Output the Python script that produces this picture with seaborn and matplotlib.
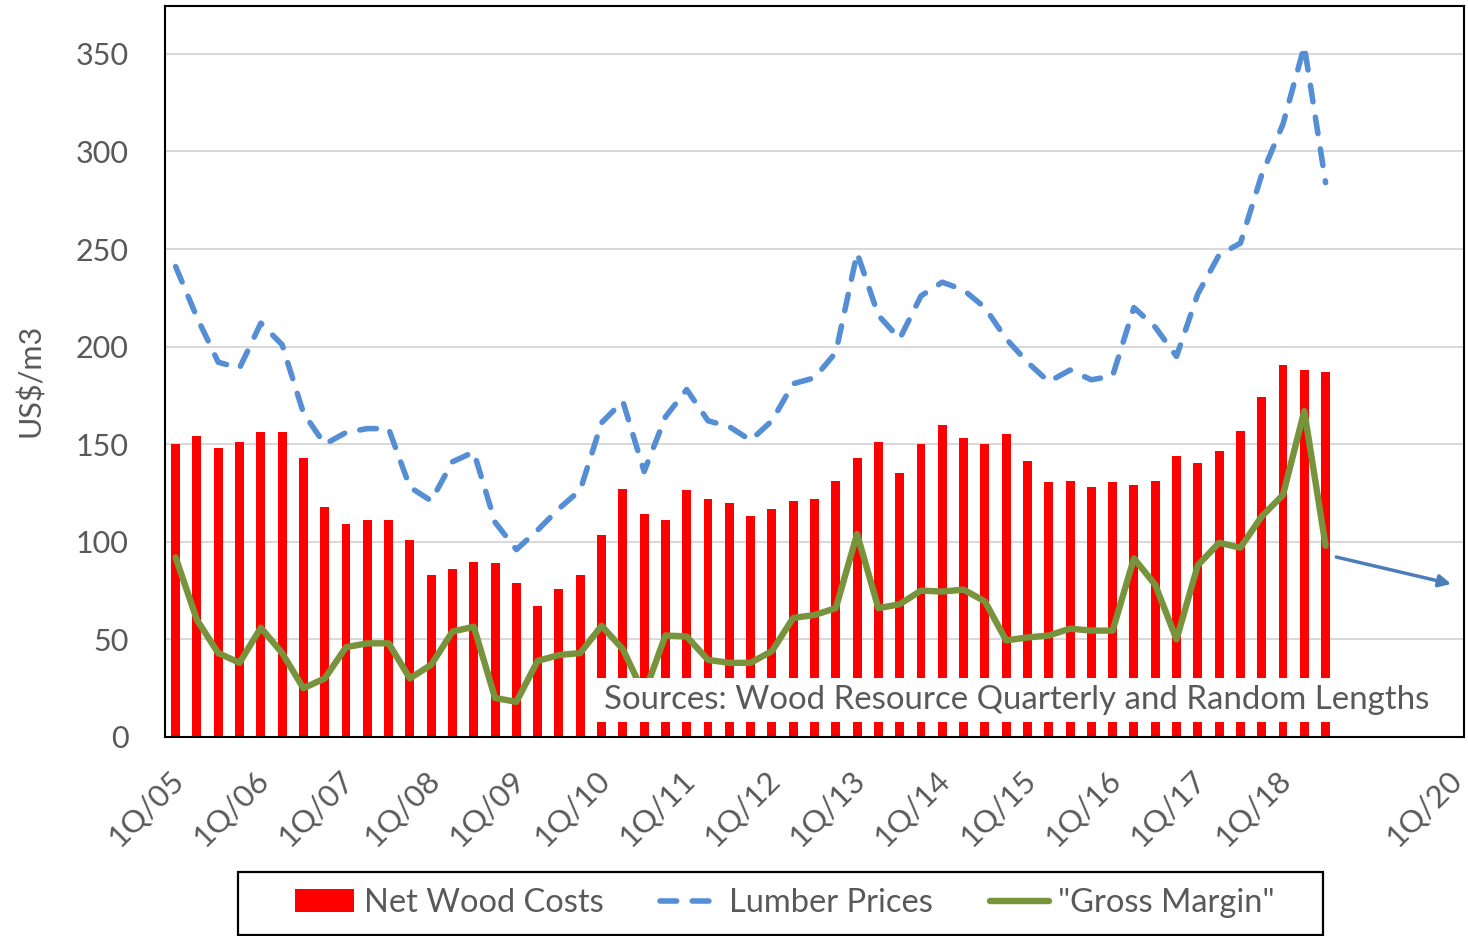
import numpy as np
import matplotlib
matplotlib.use("Agg")
import matplotlib.pyplot as plt
import matplotlib.transforms as mtransforms
from matplotlib.patches import Patch, Rectangle
from matplotlib.lines import Line2D
import seaborn as sns

# quarterly series, 1Q/05 .. 3Q/18 (US$/m3)
net_wood_costs = [150, 154, 148, 151, 156, 156, 143, 118, 109, 111,
                  111, 101, 83, 86, 89.5, 89, 79, 67, 76, 83,
                  103.5, 127, 114, 111, 126.5, 122, 120, 113, 117, 121,
                  122, 131, 143, 151, 135.5, 150, 160, 153, 150, 155,
                  141.5, 130.5, 131, 128, 130.5, 129, 131, 144, 140.5, 146.5,
                  157, 174, 190.5, 188, 187]
lumber_prices = [241, 215, 192, 189, 212, 201, 166, 150, 156, 158,
                 158, 128, 121, 141, 146, 110, 96, 106, 117, 126.5,
                 161, 172, 136, 164, 178, 162, 159, 152, 162, 181,
                 184, 197, 248, 216, 204, 226, 233, 229, 220, 204,
                 192, 182, 188, 183, 185, 220, 210, 195, 227, 247,
                 253, 288, 314, 354, 284]
gross_margin = [92, 60, 43, 38, 56, 43, 25, 30, 46, 48,
                48, 30, 37, 54, 56.5, 20, 18, 39, 42, 43,
                57, 45, 22, 52, 51.5, 39.5, 38, 38, 44, 61,
                62.5, 66, 104, 66, 68, 75, 74.5, 75.5, 69.5, 49.5,
                51, 52, 55.5, 54.5, 54.5, 91.5, 78, 50, 88, 99.5,
                97, 113, 124, 167, 98]
quarter_idx = np.arange(len(net_wood_costs))

tick_labels = ["1Q/05", "1Q/06", "1Q/07", "1Q/08", "1Q/09", "1Q/10", "1Q/11",
               "1Q/12", "1Q/13", "1Q/14", "1Q/15", "1Q/16", "1Q/17", "1Q/18",
               "", "1Q/20"]
y_ticks = [0, 50, 100, 150, 200, 250, 300, 350]

red = "#ff0000"
blue = "#558ed5"
green = "#77933c"
grey_txt = "#595959"
dash = (3.0, 2.8)

sns.set_theme(style="white")
plt.rcParams["font.family"] = ["Lato", "DejaVu Sans"]

fig = plt.figure(figsize=(14.68, 9.36), dpi=100)
ax = fig.add_axes([165 / 1468, 199 / 936, 1299 / 1468, 731 / 936])

sns.barplot(x=quarter_idx, y=net_wood_costs, color=red, saturation=1,
            width=0.42, linewidth=0, ax=ax, zorder=2)
sns.lineplot(x=quarter_idx, y=lumber_prices, color=blue, lw=4.0, ax=ax, zorder=3)
ln = ax.lines[-1]
ln.set_dashes(dash)
ln.set_dash_capstyle("round")
sns.lineplot(x=quarter_idx, y=gross_margin, color=green, lw=4.6, ax=ax, zorder=4)

ax.set_xlim(-0.5, 60.5)
ax.set_ylim(0, 374.5)
ax.set_yticks(y_ticks)
ax.set_yticklabels([str(v) for v in y_ticks], fontsize=22, color=grey_txt)
ax.tick_params(axis="y", length=0, pad=26)
ax.yaxis.grid(True, color="#d9d9d9", lw=1.5, zorder=0)
ax.set_axisbelow(True)

xt = np.arange(len(tick_labels)) * 4 - 0.5
ax.set_xticks(xt)
ax.set_xticklabels(tick_labels, fontsize=22.5, color=grey_txt, rotation=45,
                   ha="right", va="center", rotation_mode="anchor")
ax.tick_params(axis="x", direction="inout", length=15, width=1.5, color="black", pad=0)
off = mtransforms.ScaledTranslation(0.14, -0.28, fig.dpi_scale_trans)
for lab in ax.get_xticklabels():
    lab.set_transform(lab.get_transform() + off)

for sp in ax.spines.values():
    sp.set_color("black")
    sp.set_linewidth(1.5)
ax.set_xlabel("")
ax.set_ylabel("")

fig.text(30 / 1468, 1 - 380 / 936, "US$/m3", rotation=90, ha="center", va="center",
         fontsize=22, color=grey_txt)

ax.text(20.1, 19.0, "Sources: Wood Resource Quarterly and Random Lengths",
        fontsize=23.8, color=grey_txt, ha="left", va="center", zorder=6,
        bbox=dict(facecolor="white", edgecolor="none", pad=5))

ax.annotate("", xy=(59.9, 78.4), xytext=(54.5, 92.2),
            arrowprops=dict(arrowstyle="-|>", color="#4a7ebb", lw=2.5,
                            mutation_scale=18, shrinkA=0, shrinkB=0))

# legend: frameless, with a plain box drawn around it
handles = [Patch(facecolor=red, edgecolor="none"),
           Line2D([], [], color=blue, lw=4.0, dashes=dash, dash_capstyle="round"),
           Line2D([], [], color=green, lw=4.6)]
leg = fig.legend(handles, ["Net Wood Costs", "Lumber Prices", '"Gross Margin"'],
                 loc="center", bbox_to_anchor=(785 / 1468, 1 - 903 / 936), ncol=3,
                 fontsize=23.5, frameon=False, handlelength=1.8,
                 handletextpad=0.3, columnspacing=1.75, borderpad=0.2)
for t in leg.get_texts():
    t.set_color(grey_txt)
fig.patches.append(Rectangle((238 / 1468, 1 / 936), 1085 / 1468, 63 / 936,
                             transform=fig.transFigure, facecolor="none",
                             edgecolor="black", lw=1.6))

fig.savefig("out.png", dpi=100)
